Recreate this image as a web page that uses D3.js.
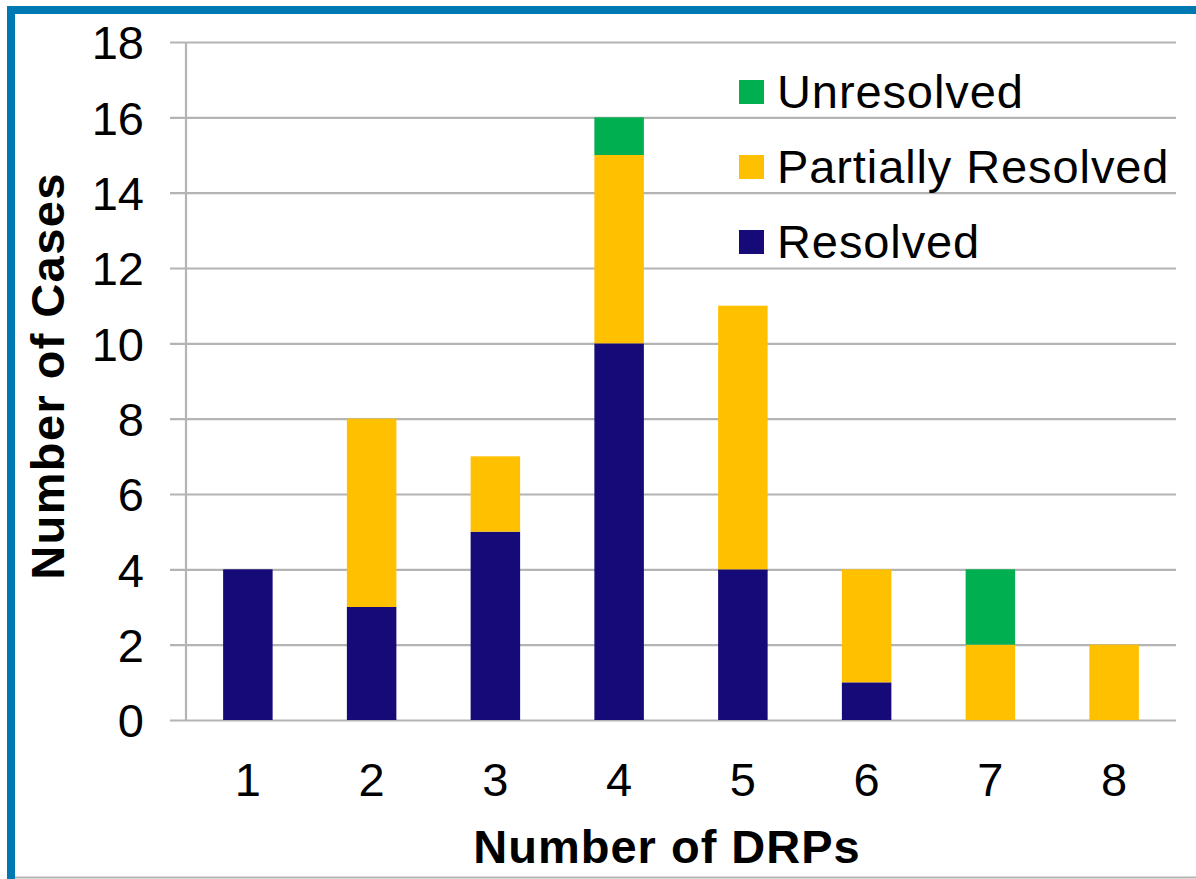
<!DOCTYPE html>
<html>
<head>
<meta charset="utf-8">
<script src="https://cdn.jsdelivr.net/npm/d3@7"></script>
<style>
  html, body { margin: 0; padding: 0; background: #fff; }
  svg { display: block; }
  text { font-family: "Liberation Sans", Arial, sans-serif; fill: #000; }
</style>
</head>
<body>
<svg id="chart" width="1196" height="879"></svg>
<script>
const categories = ["1", "2", "3", "4", "5", "6", "7", "8"];
const resolved = [4, 3, 5, 10, 4, 1, 0, 0];
const partiallyResolved = [0, 5, 2, 5, 7, 3, 2, 2];
const unresolved = [0, 0, 0, 1, 0, 0, 2, 0];
const seriesNames = ["Resolved", "Partially Resolved", "Unresolved"];
const seriesColors = ["#150A78", "#FFC000", "#00B050"];
const yTicks = [0, 2, 4, 6, 8, 10, 12, 14, 16, 18];

const svg = d3.select("#chart");
const W = 1196, H = 879;

// frame
svg.append("rect").attr("x", 0).attr("y", 0).attr("width", W).attr("height", H).attr("fill", "#fff");
svg.append("rect").attr("x", 7).attr("y", 6).attr("width", W - 7).attr("height", 8).attr("fill", "#0078B2");
svg.append("rect").attr("x", 7).attr("y", 6).attr("width", 8).attr("height", H - 6).attr("fill", "#0078B2");
svg.append("rect").attr("x", 15).attr("y", 876.5).attr("width", W - 15).attr("height", 2).attr("fill", "#b4b4b4");

const margin = { left: 186, right: 1176, top: 42, bottom: 720 };

const x = d3.scaleBand().domain(categories).range([margin.left, margin.right]).paddingInner(0.6).paddingOuter(0.3);
const y = d3.scaleLinear().domain([0, 18]).range([margin.bottom, margin.top]);

// gridlines
const grid = svg.append("g").attr("transform", `translate(${margin.left - 16},0)`)
  .call(d3.axisRight(y).tickValues(yTicks).tickSize(margin.right - margin.left + 16).tickFormat(""));
grid.select(".domain").remove();
grid.selectAll(".tick line").attr("stroke", "#b4b4b4").attr("stroke-width", 2.2);

// y tick labels
const yl = svg.append("g").attr("transform", `translate(${margin.left},0)`)
  .call(d3.axisLeft(y).tickValues(yTicks).tickSize(0).tickPadding(42).tickFormat(d3.format("d")));
yl.select(".domain").remove();
yl.selectAll(".tick text").style("font-size", "47px").attr("dy", "0.36em");

// stacked data
const rows = categories.map((c, i) => ({ cat: c, "Resolved": resolved[i], "Partially Resolved": partiallyResolved[i], "Unresolved": unresolved[i] }));
const stack = d3.stack().keys(seriesNames)(rows);

svg.append("g").selectAll("g").data(stack).join("g")
  .attr("fill", (d, i) => seriesColors[i])
  .selectAll("rect").data(d => d).join("rect")
  .attr("x", d => x(d.data.cat))
  .attr("width", x.bandwidth())
  .attr("y", d => y(d[1]))
  .attr("height", d => y(d[0]) - y(d[1]));

// y axis line
svg.append("line").attr("x1", margin.left).attr("x2", margin.left).attr("y1", margin.top).attr("y2", margin.bottom)
  .attr("stroke", "#b4b4b4").attr("stroke-width", 2.2);

// x axis labels
const xl = svg.append("g").attr("transform", `translate(0,${margin.bottom})`)
  .call(d3.axisBottom(x).tickSize(0).tickPadding(0));
xl.select(".domain").remove();
xl.selectAll(".tick text").attr("y", 76).attr("dy", 0).style("font-size", "47px");

// axis titles
svg.append("text").attr("x", (margin.left + margin.right) / 2 - 14).attr("y", 863)
  .attr("text-anchor", "middle").style("font-size", "47px").style("font-weight", "bold")
  .style("letter-spacing", "1px").text("Number of DRPs");
svg.append("text").attr("transform", "translate(64,376) rotate(-90)")
  .attr("text-anchor", "middle").style("font-size", "47px").style("font-weight", "bold")
  .style("letter-spacing", "1.4px").text("Number of Cases");

// legend
const legendItems = [
  { name: "Unresolved", color: seriesColors[2] },
  { name: "Partially Resolved", color: seriesColors[1] },
  { name: "Resolved", color: seriesColors[0] }
];
const lg = svg.append("g");
legendItems.forEach((it, i) => {
  const cy = 92 + i * 75;
  lg.append("rect").attr("x", 739).attr("y", cy - 12).attr("width", 25).attr("height", 24).attr("fill", it.color);
  lg.append("text").attr("x", 777).attr("y", cy + 16).style("font-size", "47px")
    .style("letter-spacing", "0.9px").text(it.name);
});
</script>
</body>
</html>
